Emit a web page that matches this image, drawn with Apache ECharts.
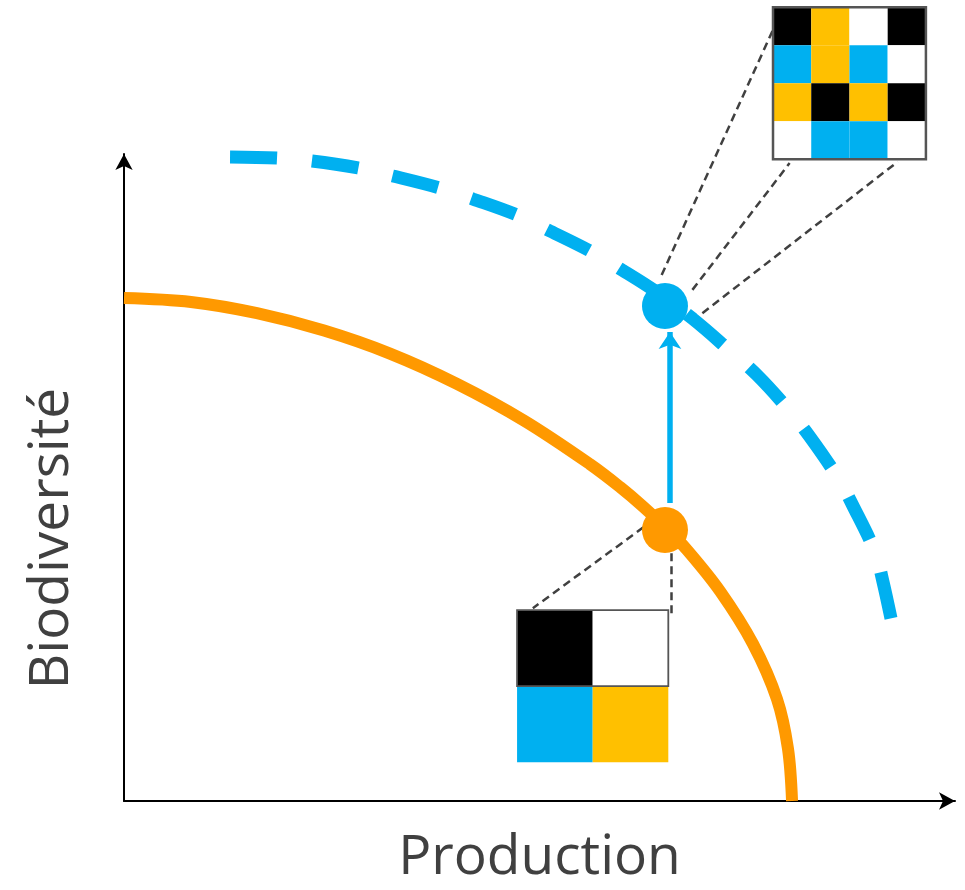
<!DOCTYPE html>
<html>
<head>
<meta charset="utf-8">
<script src="https://cdn.jsdelivr.net/npm/echarts@6/dist/echarts.min.js"></script>
<style>html,body{margin:0;padding:0;background:#fff;}#c{width:965px;height:890px;}</style>
</head>
<body>
<div id="c"></div>
<script>
// ---- data ----
const xAxisName = 'Production';
const yAxisName = 'Biodiversité';
// current frontier (orange)
const currentFrontier = [[0,77.74],[8.06,77.13],[16.0,75.4],[24.07,72.71],[32.01,69.15],[40.07,64.47],[48.14,58.79],[56.08,52.05],[59.69,48.53],[62.45,45.53],[65.1,42.36],[67.75,38.82],[71.72,32.44],[75.69,24.28],[78.58,15.74],[79.9,8.08],[80.39,0]];
// potential frontier (blue dashed)
const potentialFrontier = [[12.76,99.54],[18.41,99.38],[22.62,98.92],[28.16,97.84],[32.37,96.6],[38.03,94.74],[42.0,93.04],[47.29,90.57],[51.26,88.1],[56.32,84.85],[59.93,82.07],[63.9,78.83],[68.47,74.5],[72.68,69.86],[76.17,65.84],[79.9,60.59],[82.55,56.26],[85.92,49.92],[87.73,45.6],[90.37,38.49],[91.34,33.85],[92.54,26.74]];
const currentPoint = [65.1, 41.9];
const potentialPoint = [65.1, 76.5];
const shiftArrow = [[65.7, 46.06], [65.7, 72.49]];
const upperLeaders = [[[64.7,81.3],[78.1,119.2]], [[68.4,79.0],[80.1,98.6]], [[69.6,75.4],[93.1,98.8]]];
const lowerLeaders = [[[62.5,42.3],[49.2,29.8]], [[65.8,38.3],[65.8,28.7]]];
const upperInsetCells = [
  ['black','yellow','white','black'],
  ['blue','yellow','blue','white'],
  ['yellow','black','yellow','black'],
  ['white','blue','blue','white']
];
const lowerInsetCells = [
  ['black','white'],
  ['blue','yellow']
];
const upperInsetBox = {x0: 78.1, x1: 96.5, y0: 122.7, y1: 99.2};
const lowerInsetBox = {x0: 47.3, x1: 65.5, y0: 29.5, y1: 6.0};

const palette = {black:'#000000', white:'#ffffff', blue:'#00B0F0', yellow:'#FFC000'};

function cellsToData(cells){
  const out = [];
  cells.forEach((row, r) => row.forEach((c, k) => out.push([k, r, c])));
  return out;
}

function insetRenderer(cells, box, borderMode){
  const nRows = cells.length, nCols = cells[0].length;
  const flat = cellsToData(cells);
  return function(params, api){
    const item = flat[params.dataIndex];
    const k = item[0], r = item[1];
    const cw = (box.x1 - box.x0) / nCols, ch = (box.y1 - box.y0) / nRows;
    const p0 = api.coord([box.x0 + k*cw, box.y0 + r*ch]);
    const p1 = api.coord([box.x0 + (k+1)*cw, box.y0 + (r+1)*ch]);
    const children = [{
      type:'rect',
      shape:{x:Math.min(p0[0],p1[0]), y:Math.min(p0[1],p1[1]), width:Math.abs(p1[0]-p0[0]), height:Math.abs(p1[1]-p0[1])},
      style:{fill: palette[item[2]]}
    }];
    if (params.dataIndex === flat.length - 1) {
      let a, b;
      if (borderMode === 'all') {
        a = api.coord([box.x0, box.y0]); b = api.coord([box.x1, box.y1]);
      } else {
        a = api.coord([box.x0, box.y0]); b = api.coord([box.x1, box.y0 + ch]);
      }
      children.push({
        type:'rect', z2: 10,
        shape:{x:Math.min(a[0],b[0]), y:Math.min(a[1],b[1]), width:Math.abs(b[0]-a[0]), height:Math.abs(b[1]-a[1])},
        style:{fill:'none', stroke:'#555555', lineWidth: borderMode === 'all' ? 2.5 : 1.8}
      });
    }
    return {type:'group', children};
  };
}

const chart = echarts.init(document.getElementById('c'));
chart.setOption({
  animation:false,
  backgroundColor:'#ffffff',
  grid:{left:124, right:10, top:154, bottom:89, containLabel:false, outerBoundsMode:'none'},
  xAxis:{
    type:'value', min:0, max:100,
    name:xAxisName, nameLocation:'middle', nameGap:30,
    nameTextStyle:{fontFamily:'Open Sans', fontSize:55, color:'#404040'},
    axisLine:{show:true, lineStyle:{color:'#000', width:2}, symbol:['none','arrow'], symbolSize:[13,16]},
    axisTick:{show:false}, axisLabel:{show:false}, splitLine:{show:false}
  },
  yAxis:{
    type:'value', min:0, max:100,
    name:yAxisName, nameLocation:'middle', nameGap:44, nameRotate:90,
    nameTextStyle:{fontFamily:'Open Sans', fontSize:55, color:'#404040', padding:[0,122,0,0]},
    axisLine:{show:true, lineStyle:{color:'#000', width:2}, symbol:['none','arrow'], symbolSize:[13,16]},
    axisTick:{show:false}, axisLabel:{show:false}, splitLine:{show:false}
  },
  series:[
    {type:'line', data:potentialFrontier, smooth:0.35, symbol:'none', clip:false, z:2,
     lineStyle:{color:'#00B0F0', width:13, type:[47,35], cap:'butt'}},
    {type:'line', data:currentFrontier, smooth:0.35, symbol:'none', clip:false, z:2,
     lineStyle:{color:'#FF9900', width:12, cap:'butt'}},
    {type:'lines', coordinateSystem:'cartesian2d', clip:false, z:1,
     data:upperLeaders.concat(lowerLeaders).map(c => ({coords:c})),
     lineStyle:{color:'#404040', width:2.5, type:[8,5], opacity:1}},
    {type:'lines', coordinateSystem:'cartesian2d', clip:false, z:3,
     symbol:['none','arrow'], symbolSize:17,
     data:[{coords:shiftArrow}],
     lineStyle:{color:'#00B0F0', width:5.5, opacity:1}},
    {type:'scatter', clip:false, z:4, symbolSize:46,
     data:[{value:currentPoint, itemStyle:{color:'#FF9900', opacity:1}}, {value:potentialPoint, itemStyle:{color:'#00B0F0', opacity:1}}]},
    {type:'custom', clip:false, z:5, data:cellsToData(upperInsetCells),
     renderItem:insetRenderer(upperInsetCells, upperInsetBox, 'all')},
    {type:'custom', clip:false, z:5, data:cellsToData(lowerInsetCells),
     renderItem:insetRenderer(lowerInsetCells, lowerInsetBox, 'top')}
  ]
});
</script>
</body>
</html>
